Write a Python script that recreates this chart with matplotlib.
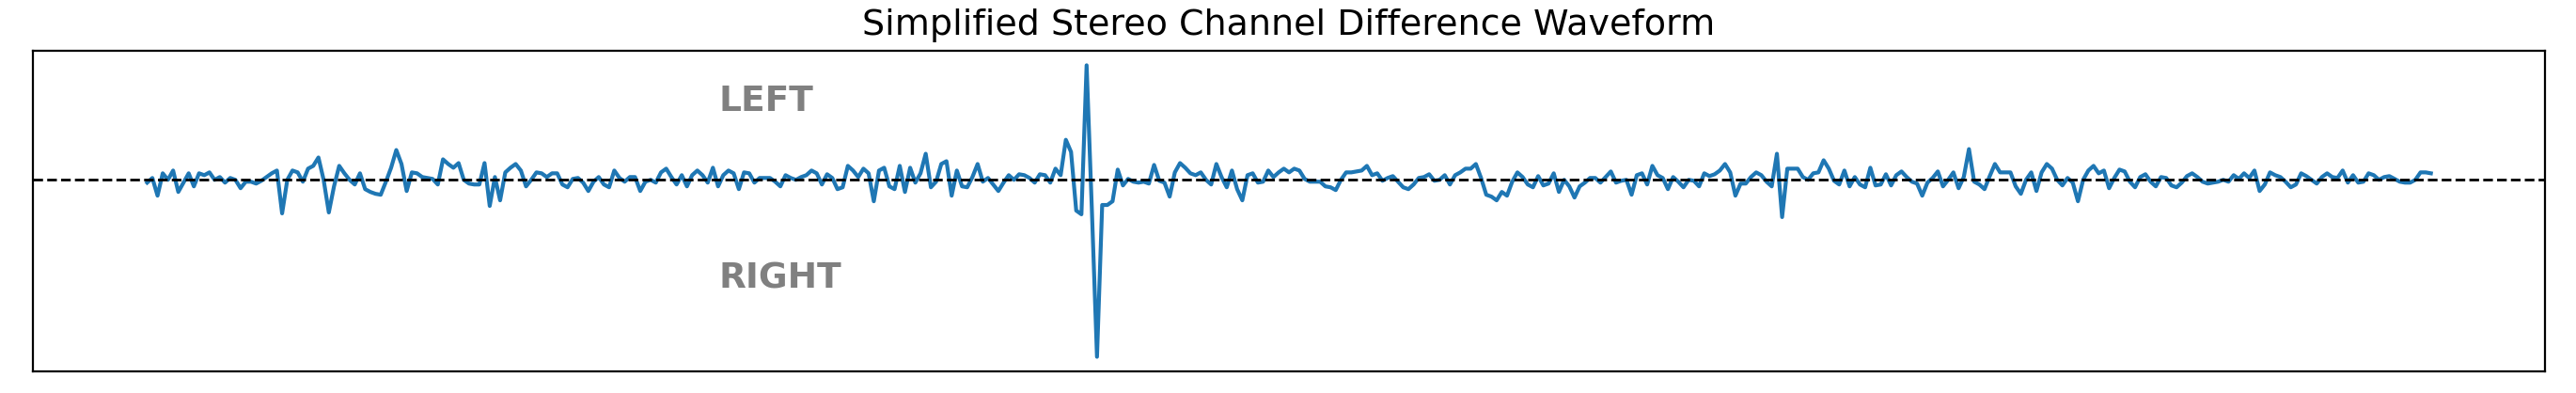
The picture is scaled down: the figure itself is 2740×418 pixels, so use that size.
import numpy as np
import matplotlib
matplotlib.use("Agg")
import matplotlib.pyplot as plt

# channel difference (L - R)
diff_a = [-0.03, 0.02, -0.17, 0.07, 0.00, 0.10, -0.13, -0.03, 0.07, -0.07,
          0.07, 0.05, 0.08, 0.00, 0.03, -0.03, 0.02, 0.00, -0.09, -0.02,
          -0.02, -0.04, -0.01, 0.03, 0.07, 0.10, -0.36, 0.00, 0.10, 0.08,
          -0.02, 0.12, 0.15, 0.24, 0.00, -0.35,
          -0.07, 0.15, 0.07, 0.00, -0.05, 0.07, -0.10, -0.13, -0.15, -0.16,
          -0.02, 0.13, 0.32, 0.17, -0.12, 0.08, 0.07, 0.03, 0.02, 0.01,
          -0.05, 0.22, 0.17, 0.13, 0.18, 0.00, -0.04, -0.05, -0.05, 0.18,
          -0.28, 0.03, -0.22, 0.08, 0.13, 0.17,
          0.10, -0.07, 0.00, 0.08, 0.07, 0.03, 0.07, 0.07, -0.05, -0.08,
          0.01, 0.02, -0.03, -0.12, -0.02, 0.03, -0.05, -0.08, 0.10, 0.02,
          -0.02, 0.03, 0.03, -0.12, -0.02, 0.00, -0.03, 0.08, 0.12, 0.03,
          -0.05, 0.05, -0.07, 0.05, 0.10, 0.05]
diff_b = [-0.03, 0.13, -0.07, 0.05, 0.10, 0.07, -0.10, 0.08, 0.07, -0.03,
          0.02, 0.02, 0.02, -0.02, -0.07, 0.05, 0.02, 0.00, 0.03, 0.05,
          0.10, 0.07, -0.05, 0.06, 0.02, -0.10, -0.08, 0.15, 0.10, 0.03,
          0.12, 0.07, -0.23, 0.10, 0.13,
          -0.07, -0.10, 0.15, -0.13, 0.13, -0.03, 0.07, 0.28, -0.08, -0.02,
          0.17, 0.20, -0.17, 0.10, -0.07, -0.08, 0.03, 0.17, -0.02, 0.02,
          -0.05, -0.12, -0.03, 0.05, 0.00, 0.06, 0.05, 0.02]
diff_click = [-0.03, 0.06, 0.05, -0.03, 0.12, 0.05, 0.43, 0.30, -0.33, -0.37,
              1.23, -0.30, -1.90, -0.27, -0.27, -0.23, 0.11, -0.06, 0.01, -0.02,
              -0.03, -0.02, -0.04, 0.16, -0.01, -0.03]
diff_c = [-0.18, 0.08, 0.18, 0.13, 0.07, 0.05, 0.08, 0.00, -0.05, 0.17,
          0.03, -0.08, 0.10, -0.10, -0.22, 0.05, 0.07, -0.03, -0.02, 0.10,
          0.03,
          0.08, 0.12, 0.08, 0.12, 0.10, 0.01, -0.02, -0.02, -0.02, -0.07,
          -0.08, -0.11, 0.00, 0.08, 0.08, 0.09, 0.10, 0.15, 0.05, 0.07,
          -0.01, 0.02, 0.04, -0.02, -0.08, -0.10, -0.05, 0.02, 0.03, 0.06,
          -0.01, 0.00, 0.05, -0.05, 0.05, 0.08, 0.12,
          0.12, 0.17, 0.02, -0.16, -0.18, -0.22, -0.13, -0.17, -0.02, 0.08,
          0.03, -0.05, -0.08, 0.04, -0.06, -0.04, 0.07, -0.13, 0.00, -0.07,
          -0.19, -0.07, -0.03, 0.02, 0.02, -0.03, 0.03, 0.09, -0.03, -0.01,
          0.00, -0.16, 0.05, 0.07, -0.05, 0.15]
diff_d = [0.05, 0.02, -0.10, 0.03, -0.02, -0.08, 0.00, -0.01, -0.07, 0.07,
          0.04, 0.06, 0.10, 0.17, 0.08, -0.17, -0.04, -0.04, 0.03, 0.08,
          0.05, -0.02, -0.07, 0.28, -0.40, 0.12, 0.12, 0.12, 0.03, 0.00,
          0.07, 0.08, 0.21, 0.12, -0.01, -0.05,
          0.10, -0.07, 0.03, -0.05, -0.08, 0.13, -0.06, -0.05, 0.06, -0.06,
          0.05, 0.09, 0.03, -0.02, -0.04, -0.17, -0.03, 0.02, 0.09, -0.07,
          0.00, 0.08, -0.09, 0.03, 0.33, -0.02, -0.05, -0.10, 0.04, 0.17,
          0.08, 0.08, 0.08, -0.07, -0.15, 0.00,
          0.08, -0.12, 0.08, 0.17, 0.12, 0.00, -0.06, 0.02, -0.03, -0.23,
          0.00, 0.10, 0.15, 0.07, 0.10, -0.09, 0.02, 0.11, 0.09, -0.02,
          -0.08, 0.03, 0.06, -0.02, -0.07, 0.03, 0.02, -0.06, -0.08, -0.03,
          0.04, 0.07, 0.03, -0.02, -0.04, -0.03, -0.02, 0.00, -0.02, 0.05,
          0.01, 0.07, 0.02, 0.10, -0.12, -0.05, 0.08, 0.05, 0.03, -0.02,
          -0.08, -0.05, 0.07, 0.04, 0.00, -0.04, 0.03, 0.07, 0.03, 0.02,
          0.10, -0.03, 0.05, -0.03, -0.02, 0.07, 0.05, 0.00, 0.03, 0.04,
          0.01, -0.02, -0.03, -0.03, 0.00, 0.08, 0.08, 0.07]

channel_labels = ["LEFT", "RIGHT"]

diff = np.array(diff_a + diff_b + diff_click + diff_c + diff_d)

fig = plt.figure(figsize=(13.7, 2.09), dpi=200)
ax = fig.add_axes([0.0128, 0.055, 0.9752, 0.816])

ax.plot(diff, color="tab:blue", lw=1.5)
ax.axhline(0, color="black", linestyle="--", lw=1.0)

ax.text(0.273, 0.84, channel_labels[0], transform=ax.transAxes, ha="left",
        va="center", fontsize=13.5, fontweight="bold", color="gray")
ax.text(0.273, 0.29, channel_labels[1], transform=ax.transAxes, ha="left",
        va="center", fontsize=13.5, fontweight="bold", color="gray")

ax.set_title("Simplified Stereo Channel Difference Waveform", fontsize=13.7,
             pad=6)
ax.set_xticks([])
ax.set_yticks([])

fig.savefig("out.png", dpi=200)
